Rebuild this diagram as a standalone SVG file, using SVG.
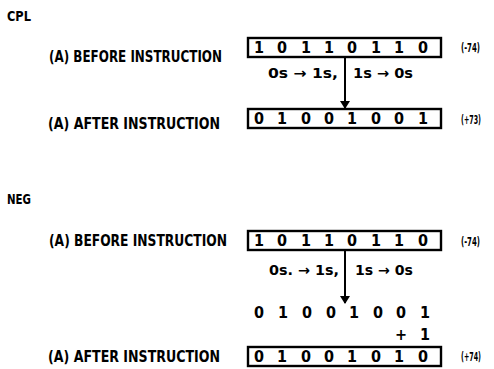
<svg xmlns="http://www.w3.org/2000/svg" width="494" height="369" viewBox="0 0 494 369">
<defs>
<style>
text{font-family:"DejaVu Sans Condensed","Liberation Sans Narrow","Liberation Sans",sans-serif;font-weight:bold;fill:#000}
.t{font-size:15px}
.h{font-size:14px}
.b{font-size:16px;text-anchor:middle}
.s{font-size:14px}
.n{font-size:12px}
.box{fill:#fff;stroke:#000;stroke-width:2.4}
.conn{stroke:#000;stroke-width:2;fill:none}
</style>
<marker id="ah" markerWidth="8" markerHeight="10" refX="7" refY="5" orient="auto" markerUnits="userSpaceOnUse">
<path d="M0,0 L8,5 L0,10 Z" fill="#000"/>
</marker>
</defs>
<rect width="494" height="369" fill="#fff"/>

<g id="cpl-title"><text class="h" x="7" y="21" textLength="24" lengthAdjust="spacingAndGlyphs">CPL</text></g>
<g id="cpl-before-label"><text class="t" x="49" y="62" textLength="173" lengthAdjust="spacingAndGlyphs">(A) BEFORE INSTRUCTION</text></g>
<g id="cpl-before">
<rect class="box" x="248" y="38" width="193" height="19"/>
<text class="b" y="53"><tspan x="259">1</tspan><tspan x="282">0</tspan><tspan x="306">1</tspan><tspan x="329">1</tspan><tspan x="352">0</tspan><tspan x="376">1</tspan><tspan x="399">1</tspan><tspan x="423">0</tspan></text>
<text class="n" x="461" y="52" textLength="19" lengthAdjust="spacingAndGlyphs">(-74)</text>
</g>
<g id="cpl-after-label"><text class="t" x="48" y="129" textLength="172" lengthAdjust="spacingAndGlyphs">(A) AFTER INSTRUCTION</text></g>
<g id="cpl-after">
<rect class="box" x="248" y="109" width="193" height="19"/>
<text class="b" y="124"><tspan x="259">0</tspan><tspan x="282">1</tspan><tspan x="306">0</tspan><tspan x="329">0</tspan><tspan x="352">1</tspan><tspan x="376">0</tspan><tspan x="399">0</tspan><tspan x="423">1</tspan></text>
<text class="n" x="461" y="124" textLength="20" lengthAdjust="spacingAndGlyphs">(+73)</text>
</g>
<g id="cpl-rule">
<text class="s" x="268" y="78" textLength="70" lengthAdjust="spacingAndGlyphs">0s → 1s,</text>
<text class="s" x="353" y="78" textLength="60" lengthAdjust="spacingAndGlyphs">1s → 0s</text>
</g>

<g id="neg-title"><text class="h" x="7" y="204" textLength="24" lengthAdjust="spacingAndGlyphs">NEG</text></g>
<g id="neg-before-label"><text class="t" x="49" y="246" textLength="178" lengthAdjust="spacingAndGlyphs">(A) BEFORE INSTRUCTION</text></g>
<g id="neg-before">
<rect class="box" x="248" y="231" width="193" height="19"/>
<text class="b" y="246"><tspan x="259">1</tspan><tspan x="282">0</tspan><tspan x="306">1</tspan><tspan x="329">1</tspan><tspan x="352">0</tspan><tspan x="376">1</tspan><tspan x="399">1</tspan><tspan x="423">0</tspan></text>
<text class="n" x="461" y="246" textLength="19" lengthAdjust="spacingAndGlyphs">(-74)</text>
</g>
<g id="neg-rule">
<text class="s" x="269" y="275" textLength="70" lengthAdjust="spacingAndGlyphs">0s. → 1s,</text>
<text class="s" x="355" y="275" textLength="58" lengthAdjust="spacingAndGlyphs">1s → 0s</text>
</g>
<g id="neg-complement">
<text class="b" y="318"><tspan x="259">0</tspan><tspan x="283">1</tspan><tspan x="307">0</tspan><tspan x="331">0</tspan><tspan x="354">1</tspan><tspan x="378">0</tspan><tspan x="401">0</tspan><tspan x="425">1</tspan></text>
<text class="b" y="340"><tspan x="401">+</tspan><tspan x="425">1</tspan></text>
</g>
<g id="neg-after-label"><text class="t" x="48" y="362" textLength="172" lengthAdjust="spacingAndGlyphs">(A) AFTER INSTRUCTION</text></g>
<g id="neg-after">
<rect class="box" x="248" y="347" width="193" height="19"/>
<text class="b" y="362"><tspan x="259">0</tspan><tspan x="282">1</tspan><tspan x="306">0</tspan><tspan x="329">0</tspan><tspan x="352">1</tspan><tspan x="376">0</tspan><tspan x="399">1</tspan><tspan x="423">0</tspan></text>
<text class="n" x="461" y="361" textLength="20" lengthAdjust="spacingAndGlyphs">(+74)</text>
</g>

<g id="connectors">
<line class="conn" x1="345" y1="58" x2="345" y2="108" marker-end="url(#ah)"/>
<line class="conn" x1="345" y1="251" x2="345" y2="303" marker-end="url(#ah)"/>
</g>
</svg>
